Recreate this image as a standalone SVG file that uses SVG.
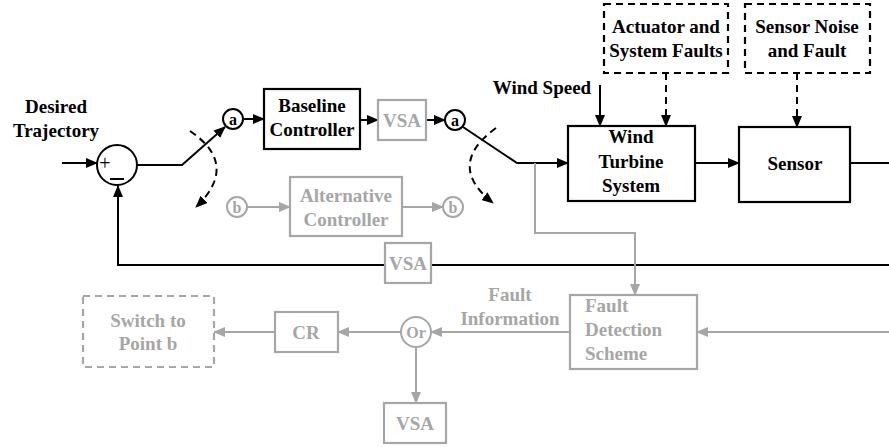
<svg xmlns="http://www.w3.org/2000/svg" width="889" height="447" viewBox="0 0 889 447" font-family="Liberation Serif, Times New Roman, Times, serif">
<style>
text{font-weight:bold;font-size:19px;text-anchor:middle}
.k{fill:#000}
.g{fill:#a6a6a6}
.bx{fill:#fff;stroke:#000;stroke-width:2.2}
.gbx{fill:#fff;stroke:#a6a6a6;stroke-width:2.2}
.dbx{fill:#fff;stroke:#000;stroke-width:2.2;stroke-dasharray:7,5}
.gdbx{fill:#fff;stroke:#a6a6a6;stroke-width:2.2;stroke-dasharray:7,5}
.ln{fill:none;stroke:#000;stroke-width:2}
.gln{fill:none;stroke:#a6a6a6;stroke-width:2}
.dln{fill:none;stroke:#000;stroke-width:2;stroke-dasharray:7,5}
.sm{font-size:16px}
</style>
<defs>
<marker id="ak" markerUnits="userSpaceOnUse" markerWidth="12" markerHeight="10" refX="11" refY="5" orient="auto"><path d="M0,0 L12,5 L0,10 Z" fill="#000"/></marker>
<marker id="ag" markerUnits="userSpaceOnUse" markerWidth="12" markerHeight="10" refX="11" refY="5" orient="auto"><path d="M0,0 L12,5 L0,10 Z" fill="#a6a6a6"/></marker>
</defs>

<g id="connectors">
<line class="ln" x1="62" y1="163" x2="97" y2="163" marker-end="url(#ak)"/>
<polyline class="ln" points="137,165 182,165 225,127" marker-end="url(#ak)"/>
<line class="ln" x1="243" y1="119" x2="264" y2="119" marker-end="url(#ak)"/>
<line class="ln" x1="360" y1="120" x2="378" y2="120" marker-end="url(#ak)"/>
<line class="ln" x1="426" y1="120" x2="445" y2="120" marker-end="url(#ak)"/>
<polyline class="ln" points="463,127 517,163 568,163" marker-end="url(#ak)"/>
<line class="ln" x1="695" y1="163" x2="739" y2="163" marker-end="url(#ak)"/>
<line class="ln" x1="850" y1="163" x2="889" y2="163"/>
<line class="ln" x1="600" y1="85" x2="600" y2="126" marker-end="url(#ak)"/>
<line class="dln" x1="666" y1="73" x2="666" y2="126" marker-end="url(#ak)"/>
<line class="dln" x1="797" y1="73" x2="797" y2="127" marker-end="url(#ak)"/>
<path class="dln" d="M190,131 Q240,165 196,207" marker-end="url(#ak)"/>
<path class="dln" d="M496,128 Q445,165 493,203" marker-end="url(#ak)"/>
<polyline class="ln" points="889,265 118,265 118,186" marker-end="url(#ak)"/>
<line class="gln" x1="247" y1="207" x2="290" y2="207" marker-end="url(#ag)"/>
<line class="gln" x1="402" y1="207" x2="443" y2="207" marker-end="url(#ag)"/>
<polyline class="gln" points="535,163 535,233 635,233 635,295" marker-end="url(#ag)"/>
<line class="gln" x1="889" y1="332" x2="697" y2="332" marker-end="url(#ag)"/>
<line class="gln" x1="570" y1="332" x2="431" y2="332" marker-end="url(#ag)"/>
<line class="gln" x1="401" y1="332" x2="338" y2="332" marker-end="url(#ag)"/>
<line class="gln" x1="275" y1="332" x2="214" y2="332" marker-end="url(#ag)"/>
<line class="gln" x1="416" y1="347" x2="416" y2="403" marker-end="url(#ag)"/>
</g>

<g id="desired-trajectory">
<text class="k" x="56" y="113">Desired</text>
<text class="k" x="56" y="137">Trajectory</text>
</g>

<g id="sum">
<circle cx="117" cy="165" r="20" fill="#fff" stroke="#000" stroke-width="2"/>
<text class="k" x="105" y="170" style="font-weight:normal;font-size:20px">+</text>
<line x1="110" y1="179" x2="124" y2="179" stroke="#000" stroke-width="2"/>
</g>

<g id="a1">
<circle cx="233" cy="119" r="10" fill="#fff" stroke="#000" stroke-width="2"/>
<text class="k sm" x="233" y="124.5">a</text>
</g>

<g id="baseline-controller">
<rect class="bx" x="264" y="89" width="96" height="60"/>
<text class="k" x="312" y="112">Baseline</text>
<text class="k" x="312" y="136">Controller</text>
</g>

<g id="vsa1">
<rect class="gbx" x="378" y="100" width="48" height="40"/>
<text class="g" x="402" y="127">VSA</text>
</g>

<g id="a2">
<circle cx="455" cy="120" r="10" fill="#fff" stroke="#000" stroke-width="2"/>
<text class="k sm" x="455" y="125.5">a</text>
</g>

<g id="b1">
<circle cx="237" cy="207" r="10" fill="#fff" stroke="#a6a6a6" stroke-width="2"/>
<text class="g sm" x="237" y="212.5">b</text>
</g>

<g id="alternative-controller">
<rect class="gbx" x="290" y="177" width="112" height="59"/>
<text class="g" x="346" y="202">Alternative</text>
<text class="g" x="346" y="226">Controller</text>
</g>

<g id="b2">
<circle cx="453" cy="207" r="10" fill="#fff" stroke="#a6a6a6" stroke-width="2"/>
<text class="g sm" x="453" y="212.5">b</text>
</g>

<g id="wind-speed">
<text class="k" x="542" y="94">Wind Speed</text>
</g>

<g id="actuator-faults">
<rect class="dbx" x="604" y="4" width="124" height="69"/>
<text class="k" x="666" y="33">Actuator and</text>
<text class="k" x="666" y="57">System Faults</text>
</g>

<g id="sensor-noise">
<rect class="dbx" x="745" y="4" width="125" height="69"/>
<text class="k" x="807" y="33">Sensor Noise</text>
<text class="k" x="807" y="57">and Fault</text>
</g>

<g id="wind-turbine">
<rect class="bx" x="568" y="126" width="127" height="75"/>
<text class="k" x="631" y="143">Wind</text>
<text class="k" x="631" y="168">Turbine</text>
<text class="k" x="631" y="192">System</text>
</g>

<g id="sensor">
<rect class="bx" x="739" y="127" width="111" height="75"/>
<text class="k" x="795" y="170">Sensor</text>
</g>

<g id="vsa-feedback">
<rect class="gbx" x="385" y="243" width="46" height="40"/>
<text class="g" x="408" y="270">VSA</text>
</g>

<g id="fault-detection">
<rect class="gbx" x="570" y="295" width="127" height="74"/>
<text class="g" x="585" y="312" style="text-anchor:start">Fault</text>
<text class="g" x="585" y="336" style="text-anchor:start">Detection</text>
<text class="g" x="585" y="360" style="text-anchor:start">Scheme</text>
</g>

<g id="fault-information">
<text class="g" x="510" y="301">Fault</text>
<text class="g" x="510" y="325">Information</text>
</g>

<g id="or">
<circle cx="416" cy="332" r="15" fill="#fff" stroke="#a6a6a6" stroke-width="2"/>
<text class="g sm" x="416" y="337.5">Or</text>
</g>

<g id="cr">
<rect class="gbx" x="275" y="312" width="63" height="40"/>
<text class="g" x="306" y="339">CR</text>
</g>

<g id="switch-b">
<rect class="gdbx" x="83" y="296" width="131" height="71"/>
<text class="g" x="148" y="327">Switch to</text>
<text class="g" x="148" y="350">Point b</text>
</g>

<g id="vsa-bottom">
<rect class="gbx" x="384" y="403" width="62" height="40"/>
<text class="g" x="415" y="430">VSA</text>
</g>
</svg>
